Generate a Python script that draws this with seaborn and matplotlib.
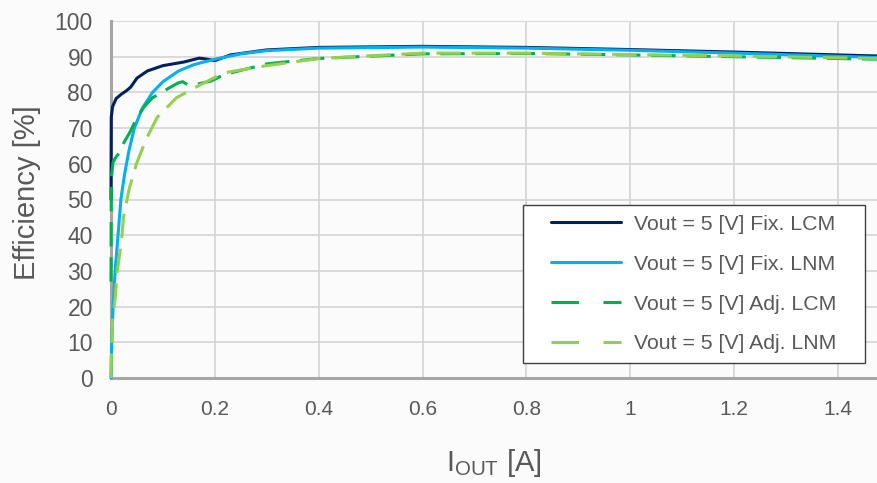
import pandas as pd
import matplotlib.pyplot as plt
import seaborn as sns
from matplotlib.lines import Line2D
from matplotlib.patches import Rectangle

# Data (I_OUT in A, efficiency in %)
fix_lcm_x = [0.0, 0.0005, 0.003, 0.01, 0.02, 0.03, 0.038, 0.05, 0.07, 0.1, 0.14, 0.17, 0.185, 0.2,
             0.23, 0.3, 0.4, 0.6, 0.8, 1.0, 1.2, 1.475]
fix_lcm_y = [50, 73, 76, 78.3, 79.5, 80.5, 81.5, 84, 86, 87.5, 88.5, 89.6, 89.3, 88.9,
             90.5, 91.9, 92.6, 92.9, 92.6, 92.0, 91.3, 90.2]

fix_lnm_x = [0.0, 0.001, 0.004, 0.008, 0.013, 0.019, 0.026, 0.035, 0.045, 0.06, 0.08, 0.1, 0.13,
             0.16, 0.2, 0.25, 0.3, 0.4, 0.6, 0.8, 1.0, 1.2, 1.475]
fix_lnm_y = [0, 8, 20, 30, 39, 50, 57, 64, 70, 75.5, 80, 83, 86,
             87.8, 89.3, 90.8, 91.7, 92.4, 92.7, 92.4, 91.8, 91.0, 89.8]

adj_lcm_x = [0.0, 0.0003, 0.0006, 0.004, 0.01, 0.016, 0.025, 0.037, 0.05, 0.064, 0.08, 0.1, 0.115,
             0.13, 0.138, 0.147, 0.165, 0.193, 0.218, 0.3, 0.4, 0.6, 0.8, 1.0, 1.2, 1.475]
adj_lcm_y = [27, 45, 56, 60.5, 62, 63, 66, 69, 73, 76, 78.5, 80.2, 81.5,
             82.7, 83, 82.2, 82.3, 83.2, 85, 88, 89.5, 90.8, 90.9, 90.5, 90.0, 89.3]

adj_lnm_x = [0.0, 0.001, 0.003, 0.008, 0.012, 0.02, 0.024, 0.035, 0.049, 0.068, 0.089, 0.126,
             0.17, 0.218, 0.3, 0.4, 0.6, 0.8, 1.0, 1.2, 1.475]
adj_lnm_y = [0, 8, 16, 22.5, 30, 38, 45, 53, 60, 67, 73, 78.5,
             82, 85.5, 87.5, 89.5, 91, 91, 90.6, 90.2, 89.5]

series_names = ['Vout = 5 [V] Fix. LCM', 'Vout = 5 [V] Fix. LNM',
                'Vout = 5 [V] Adj. LCM', 'Vout = 5 [V] Adj. LNM']
series_colors = ['#002060', '#00b0f0', '#00b050', '#92d050']
xtick_values = [0, 0.2, 0.4, 0.6, 0.8, 1.0, 1.2, 1.4]
xtick_labels = ['0', '0.2', '0.4', '0.6', '0.8', '1', '1.2', '1.4']

# long-form table
frames = []
for name, xs, ys in zip(series_names,
                        [fix_lcm_x, fix_lnm_x, adj_lcm_x, adj_lnm_x],
                        [fix_lcm_y, fix_lnm_y, adj_lcm_y, adj_lnm_y]):
    frames.append(pd.DataFrame({'iout': xs, 'eff': ys, 'series': name}))
df = pd.concat(frames, ignore_index=True)

sns.set_style('white')
plt.rcParams['font.family'] = ['Liberation Sans', 'DejaVu Sans']

bg = '#fbfbfb'
txt = '#595959'
fig = plt.figure(figsize=(8.77, 4.83), dpi=100, facecolor=bg)
ax = fig.add_axes([111 / 877, 105 / 483, 766 / 877, 357 / 483])
ax.set_facecolor(bg)

palette = dict(zip(series_names, series_colors))
dash_map = dict(zip(series_names, ['', '', (8, 3.5), (8, 3.5)]))
sns.lineplot(data=df, x='iout', y='eff', hue='series', style='series',
             palette=palette, dashes=dash_map, estimator=None, sort=False,
             linewidth=2.2, legend=False, ax=ax, zorder=3, clip_on=False)

ax.set_xlim(0, 1.475)
ax.set_ylim(0, 100)
ax.set_xticks(xtick_values)
ax.set_xticklabels(xtick_labels)
ax.set_yticks(range(0, 101, 10))
ax.grid(True, color='#d4d4d4', linewidth=1.2)
ax.set_axisbelow(True)
for s in ['top', 'right']:
    ax.spines[s].set_visible(False)
for s in ['left', 'bottom']:
    ax.spines[s].set_color('#a6a6a6')
    ax.spines[s].set_linewidth(2.2)
ax.tick_params(axis='both', length=0, colors=txt)
ax.tick_params(axis='x', pad=16, labelsize=15)
ax.tick_params(axis='y', pad=13, labelsize=16.5)

ax.set_xlabel(r'I$_{\mathregular{OUT}}$ [A]', fontsize=21, color=txt, labelpad=20)
ax.set_ylabel('Efficiency [%]', fontsize=21, color=txt)
ax.yaxis.set_label_coords(-0.091, 0.52)

# legend: white box drawn separately, Excel-like dashes in the handles
box = Rectangle((0.538, 0.042), 0.446, 0.443, transform=ax.transAxes,
                facecolor='white', edgecolor='#404040', linewidth=1.0, zorder=4)
ax.add_patch(box)
handles = []
for name, col in zip(series_names, series_colors):
    ls = '-' if 'Fix' in name else (0, (9, 8))
    handles.append(Line2D([], [], color=col, linewidth=2.2, linestyle=ls))
leg = ax.legend(handles, series_names, loc='center', bbox_to_anchor=(0.761, 0.263),
                fontsize=15.3, frameon=False, handlelength=3.3,
                handletextpad=0.62, labelspacing=0.98, borderpad=0, borderaxespad=0)
leg.set_zorder(5)
for t in leg.get_texts():
    t.set_color(txt)

plt.savefig('out.png', dpi=100, facecolor=bg)
